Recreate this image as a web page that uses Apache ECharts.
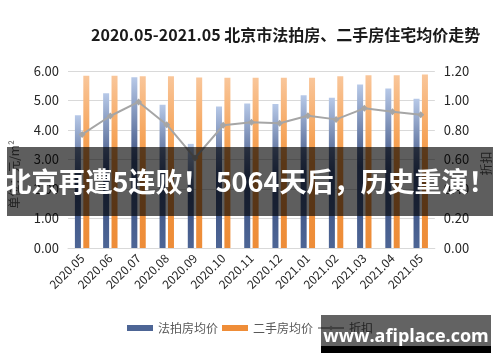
<!DOCTYPE html>
<html><head><meta charset="utf-8">
<script src="https://cdn.jsdelivr.net/npm/echarts@6/dist/echarts.min.js"></script>
<style>html,body{margin:0;padding:0;background:#fff}#c{width:500px;height:362px}</style>
</head><body><div id="c"></div>
<script>
const categories = ['2020.05','2020.06','2020.07','2020.08','2020.09','2020.10','2020.11','2020.12','2021.01','2021.02','2021.03','2021.04','2021.05'];
const auctionPrice = [4.50,5.25,5.79,4.86,3.53,4.80,4.90,4.88,5.18,5.09,5.54,5.41,5.06];
const resalePrice = [5.84,5.84,5.82,5.82,5.78,5.77,5.77,5.77,5.77,5.82,5.86,5.86,5.88];
const discount = [0.77,0.895,0.99,0.836,0.61,0.832,0.852,0.846,0.897,0.872,0.947,0.924,0.904];
const leftTicks = [0,1,2,3,4,5,6];
const rightTicks = [0,0.2,0.4,0.6,0.8,1.0,1.2];
const titleText = '2020.05-2021.05 北京市法拍房、二手房住宅均价走势';
const bannerText = '北京再遭5连败！ 5064天后，历史重演！';
const watermarkText = 'www.afiplace.com';

const FONT = '"Noto Sans CJK SC", "Noto Sans", sans-serif';
const chart = echarts.init(document.getElementById('c'), null, {renderer: 'canvas'});
const grad = (stops) => new echarts.graphic.LinearGradient(0, 0, 0, 1, stops.map((c, i) => ({offset: c[0], color: c[1]})));

chart.setOption({
  animation: false,
  textStyle: {fontFamily: FONT},
  title: {
    text: titleText, left: 86, top: 22,
    textStyle: {fontSize: 16, fontWeight: 'bold', color: '#1a1a1a', fontFamily: FONT}
  },
  legend: {
    left: 'center', top: 317, itemWidth: 26, itemHeight: 6, itemGap: 4,
    textStyle: {fontSize: 12, color: '#595959', fontFamily: FONT},
    data: [{name: '法拍房均价', icon: 'rect', itemStyle: {color: '#4d6595'}},
           {name: '二手房均价', icon: 'rect', itemStyle: {color: '#ef8d38'}},
           {name: '折扣'}]
  },
  grid: {left: 68, right: 60, top: 71, bottom: 114},
  xAxis: {
    type: 'category', data: categories,
    axisLine: {lineStyle: {color: '#d9d9d9'}},
    axisTick: {show: false},
    axisLabel: {rotate: 45, margin: 8, fontSize: 12, color: '#262626', fontFamily: FONT}
  },
  yAxis: [{
    type: 'value', min: leftTicks[0], max: leftTicks[leftTicks.length - 1], interval: 1,
    name: '单位：元/m²', nameLocation: 'middle', nameGap: 48, nameRotate: 90,
    nameTextStyle: {fontSize: 12, color: '#595959', padding: [0, 30, 0, 0]},
    axisLine: {show: false}, axisTick: {show: false},
    splitLine: {lineStyle: {color: '#d9d9d9'}},
    axisLabel: {fontSize: 13, color: '#262626', margin: 9, formatter: v => v.toFixed(2)}
  }, {
    type: 'value', min: rightTicks[0], max: rightTicks[rightTicks.length - 1], interval: 0.2,
    name: '折扣', nameLocation: 'middle', nameGap: 38, nameRotate: 90,
    nameTextStyle: {fontSize: 12, color: '#595959', padding: [0, 8, 0, 0]},
    axisLine: {show: false}, axisTick: {show: false}, splitLine: {show: false},
    axisLabel: {fontSize: 13, color: '#262626', margin: 9, formatter: v => v.toFixed(2)}
  }],
  series: [{
    name: '法拍房均价', type: 'bar', data: auctionPrice, barWidth: 6, barGap: '40%',
    itemStyle: {color: grad([[0, '#b7c9e8'], [0.5, '#3b5080'], [1, '#4d6595']])}
  }, {
    name: '二手房均价', type: 'bar', data: resalePrice, barWidth: 6,
    itemStyle: {color: grad([[0, '#f9c69a'], [0.5, '#f4963f'], [1, '#ed8c38']])}
  }, {
    name: '折扣', type: 'line', yAxisIndex: 1, data: discount,
    symbol: 'diamond', symbolSize: 7,
    lineStyle: {color: '#a6a6a6', width: 2},
    itemStyle: {color: '#a6a6a6'}
  }],
  graphic: [
    {type: 'rect', z: 100, shape: {x: 7, y: 147, width: 486, height: 69}, style: {fill: 'rgba(0,0,0,0.63)'}},
    {type: 'text', z: 101, x: 250, y: 182, style: {text: bannerText, fill: '#fff', font: 'bold 27px ' + FONT, textAlign: 'center', textVerticalAlign: 'middle'}},
    {type: 'rect', z: 100, shape: {x: 321, y: 315, width: 170, height: 31}, style: {fill: 'rgba(0,0,0,0.61)'}},
    {type: 'rect', z: 100, shape: {x: 321, y: 346, width: 170, height: 7}, style: {fill: '#000'}},
    {type: 'text', z: 101, x: 406, y: 337, style: {text: watermarkText, fill: '#fff', font: 'bold 18px "Open Sans", "DejaVu Sans", sans-serif', textAlign: 'center', textVerticalAlign: 'middle'}}
  ]
});
</script></body></html>
